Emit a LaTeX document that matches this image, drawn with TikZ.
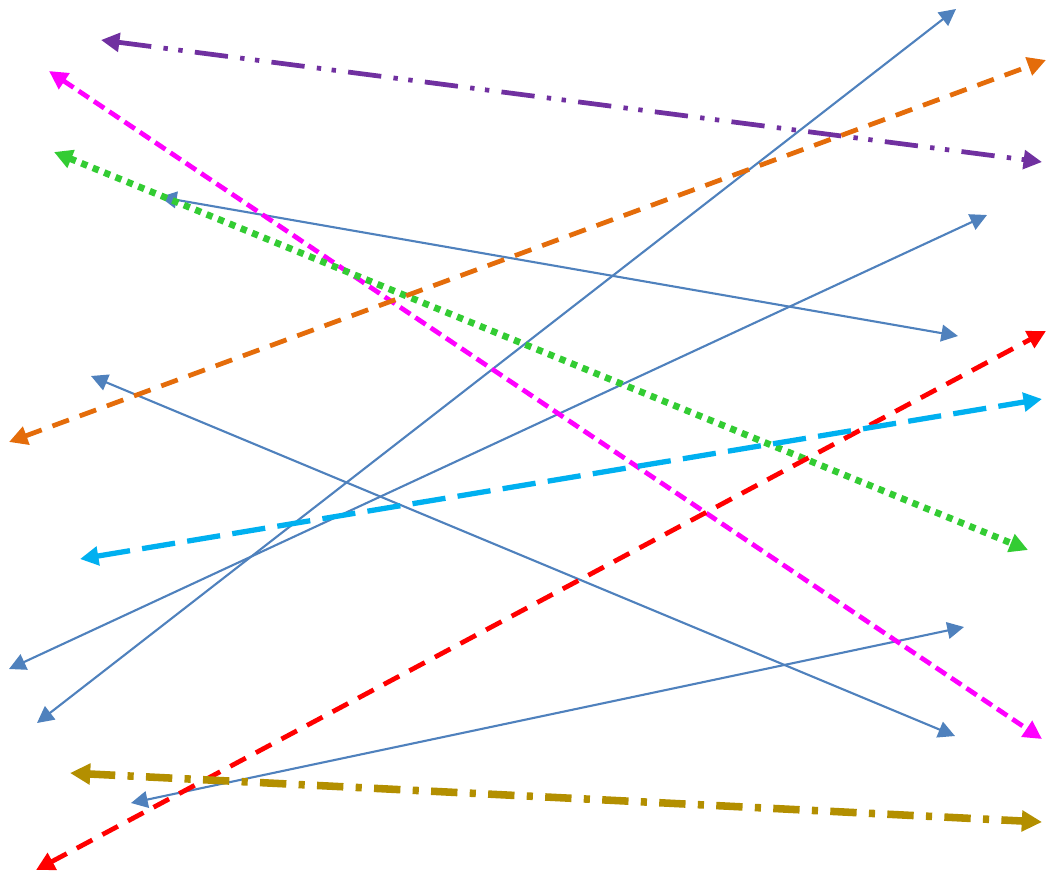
\documentclass[tikz,border=0pt]{standalone}
\usepackage{tikz}
\usetikzlibrary{arrows.meta}

\definecolor{lineblue}{HTML}{4F81BD}
\definecolor{linepurple}{HTML}{7030A0}
\definecolor{linemagenta}{HTML}{FF00FF}
\definecolor{linegreen}{HTML}{33CC33}
\definecolor{lineorange}{HTML}{E46C0A}
\definecolor{linered}{HTML}{FF0000}
\definecolor{linecyan}{HTML}{00B0F0}
\definecolor{linegold}{HTML}{B38F00}

\begin{document}
\begin{tikzpicture}[x=0.02cm, y=-0.02cm,
        thinline/.style={{Triangle[length=9.5pt,width=9.5pt]}-{Triangle[length=9.5pt,width=9.5pt]}, line width=1.2pt, lineblue},
        thickline/.style={{Triangle[length=10.5pt,width=10.5pt]}-{Triangle[length=10.5pt,width=10.5pt]}, line width=2.7pt}]
            \useasboundingbox (0,0) rectangle (1047,872);

            % End points
            \coordinate (Pa) at (101,40);
            \coordinate (Pb) at (1042,162);
            \coordinate (Ma) at (49,71);
            \coordinate (Mb) at (1042,739);
            \coordinate (Ga) at (54,152);
            \coordinate (Gb) at (1028,550);
            \coordinate (Oa) at (9,442);
            \coordinate (Ob) at (1046,60);
            \coordinate (Ra) at (36,870);
            \coordinate (Rb) at (1046,331);
            \coordinate (Ca) at (80,559);
            \coordinate (Cb) at (1042,399);
            \coordinate (Ka) at (70,773);
            \coordinate (Kb) at (1042,822);
            \coordinate (A1) at (160,197);
            \coordinate (A2) at (958,336);
            \coordinate (B1) at (37,723);
            \coordinate (B2) at (956,9);
            \coordinate (C1) at (9,669);
            \coordinate (C2) at (987,215);
            \coordinate (D1) at (91,376);
            \coordinate (D2) at (955,736);
            \coordinate (E1) at (131,803);
            \coordinate (E2) at (964,627);

            % Thin blue connectors
            \draw[thinline] (A1) -- (A2);
            \draw[thinline] (B1) -- (B2);
            \draw[thinline] (C1) -- (C2);
            \draw[thinline] (D1) -- (D2);
            \draw[thinline] (E1) -- (E2);

            % Styled connectors
            \draw[thickline, linepurple, dash pattern=on 19pt off 7pt on 2.5pt off 6pt on 2.5pt off 7pt] (Pa) -- (Pb);
            \draw[thickline, linemagenta, dash pattern=on 7pt off 3.5pt] (Ma) -- (Mb);
            \draw[thickline, linegreen, line width=3.8pt, dash pattern=on 3.6pt off 3.4pt] (Ga) -- (Gb);
            \draw[thickline, lineorange, dash pattern=on 10pt off 6.5pt] (Oa) -- (Ob);
            \draw[thickline, linered, dash pattern=on 10pt off 6.5pt] (Ra) -- (Rb);
            \draw[thickline, linecyan, line width=3pt, dash pattern=on 19pt off 7pt] (Ca) -- (Cb);
            \draw[thickline, linegold, line width=4.3pt, dash pattern=on 15pt off 7pt on 3.5pt off 7pt,
                {Triangle[length=11.5pt,width=11.5pt]}-{Triangle[length=11.5pt,width=11.5pt]}] (Ka) -- (Kb);
        \end{tikzpicture}
\end{document}
